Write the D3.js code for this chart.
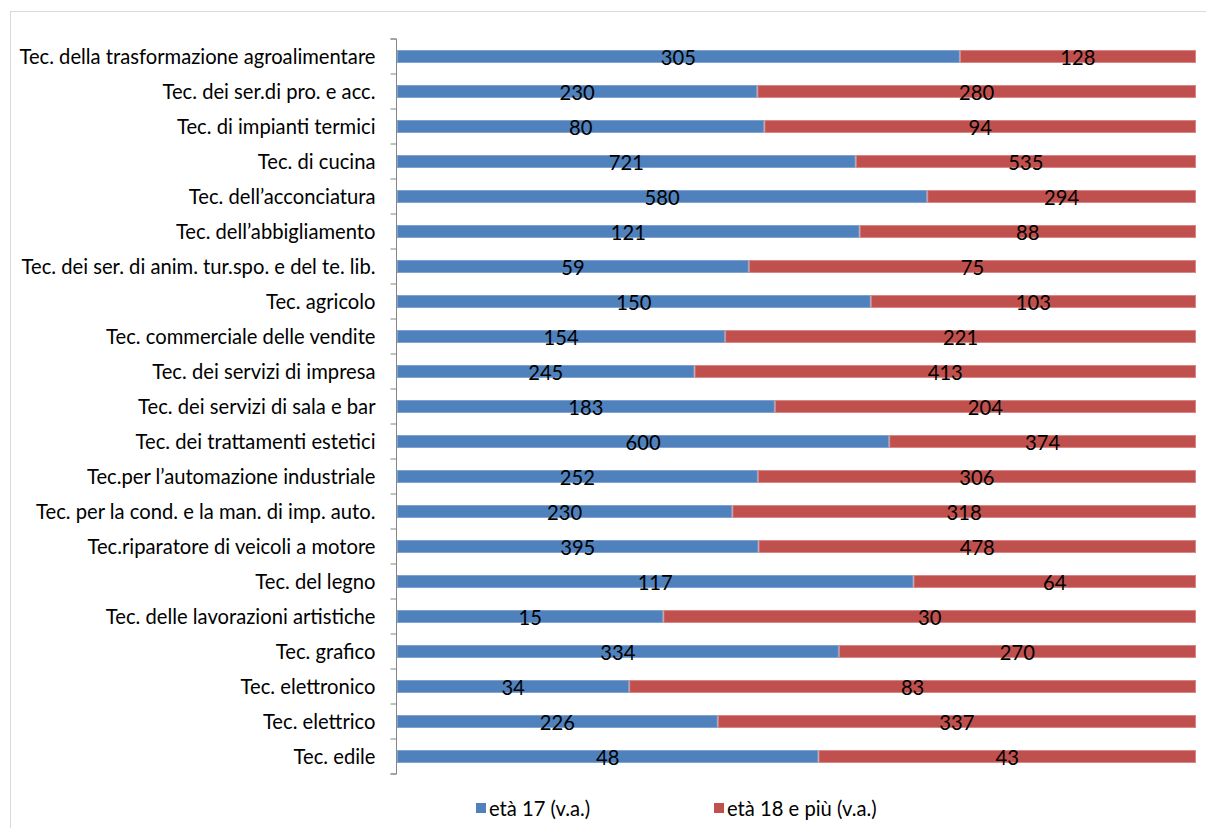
<!DOCTYPE html>
<html><head><meta charset="utf-8">
<script src="https://cdn.jsdelivr.net/npm/d3@7"></script>
<style>body{margin:0;background:#fff}svg{display:block}</style>
</head><body><svg id="c" width="1206" height="828"></svg>
<script>
const categories = [
  "Tec. della trasformazione agroalimentare",
  "Tec. dei ser.di pro. e acc.",
  "Tec. di impianti termici",
  "Tec. di cucina",
  "Tec. dell\u2019acconciatura",
  "Tec. dell\u2019abbigliamento",
  "Tec. dei ser. di anim. tur.spo. e del te. lib.",
  "Tec. agricolo",
  "Tec. commerciale delle vendite",
  "Tec. dei servizi di impresa",
  "Tec. dei servizi di sala e bar",
  "Tec. dei trattamenti estetici",
  "Tec.per l\u2019automazione industriale",
  "Tec. per la cond. e la man. di imp. auto.",
  "Tec.riparatore di veicoli a motore",
  "Tec. del legno",
  "Tec. delle lavorazioni artistiche",
  "Tec. grafico",
  "Tec. elettronico",
  "Tec. elettrico",
  "Tec. edile"
];
const age17 = [305,230,80,721,580,121,59,150,154,245,183,600,252,230,395,117,15,334,34,226,48];
const age18plus = [128,280,94,535,294,88,75,103,221,413,204,374,306,318,478,64,30,270,83,337,43];
const seriesNames = ["et\u00e0 17 (v.a.)", "et\u00e0 18 e pi\u00f9 (v.a.)"];
const colors = ["#4F81BD", "#C0504D"];
const strokes = ["#7EA3D2", "#D98684"];

const svg = d3.select("#c");
const font = "Lato, sans-serif";
const fs = "20.2px";

svg.append("rect").attr("x",10.5).attr("y",11.5).attr("width",1210).attr("height",830)
  .attr("fill","none").attr("stroke","#D9D9D9").attr("stroke-width",1);

const pLeft = 397, pRight = 1196, pTop = 39, pBottom = 774;
const x = d3.scaleLinear().domain([0,1]).range([pLeft,pRight]);
const y = d3.scaleBand().domain(categories).range([pTop,pBottom]).paddingInner(0.63).paddingOuter(0.315);

const rows = categories.map((c,i)=>({cat:c, v:[age17[i], age18plus[i]]}));
rows.forEach(r=>{ const t=r.v[0]+r.v[1]; r.segs=[[0,r.v[0]/t],[r.v[0]/t,1]]; });

[0,1].forEach(s=>{
  const g = svg.append("g");
  g.selectAll("rect").data(rows).join("rect")
    .attr("x", d=>x(d.segs[s][0])+0.5)
    .attr("y", d=>y(d.cat)+0.5)
    .attr("width", d=>x(d.segs[s][1])-x(d.segs[s][0])-1)
    .attr("height", y.bandwidth()-1)
    .attr("fill", colors[s]).attr("stroke", strokes[s]).attr("stroke-width",1);
  g.selectAll("text").data(rows).join("text")
    .attr("x", d=>(x(d.segs[s][0])+x(d.segs[s][1]))/2)
    .attr("y", d=>y(d.cat)+y.bandwidth()/2+1)
    .attr("dy","0.36em")
    .attr("text-anchor","middle")
    .style("font-family",font).style("font-size",fs).attr("fill","#000")
    .text(d=>d.v[s]);
});

const yAxisScale = d3.scaleBand().domain(categories).range([pTop,pBottom]);
const ax = svg.append("g").attr("transform",`translate(${pLeft-0.5},0)`)
  .call(d3.axisLeft(yAxisScale).tickSize(0).tickPadding(21));
ax.select(".domain").attr("stroke","#868686").attr("d",`M-6,${pTop}H0V${pBottom}H-6`);
ax.selectAll("text").style("font-family",font).style("font-size",fs).attr("fill","#000").attr("dy","0.36em");
const bounds = d3.range(categories.length+1).map(i=>pTop + i*yAxisScale.step());
ax.selectAll("line.b").data(bounds).join("line").attr("class","b")
  .attr("x1",-6).attr("x2",0).attr("y1",d=>d).attr("y2",d=>d).attr("stroke","#868686");

const legX = [476, 714];
seriesNames.forEach((n,i)=>{
  svg.append("rect").attr("x",legX[i]).attr("y",803).attr("width",10).attr("height",10).attr("fill",colors[i]);
  svg.append("text").attr("x",legX[i]+13).attr("y",809).attr("dy","0.36em")
    .style("font-family",font).style("font-size",fs).attr("fill","#000").text(n);
});
</script></body></html>
